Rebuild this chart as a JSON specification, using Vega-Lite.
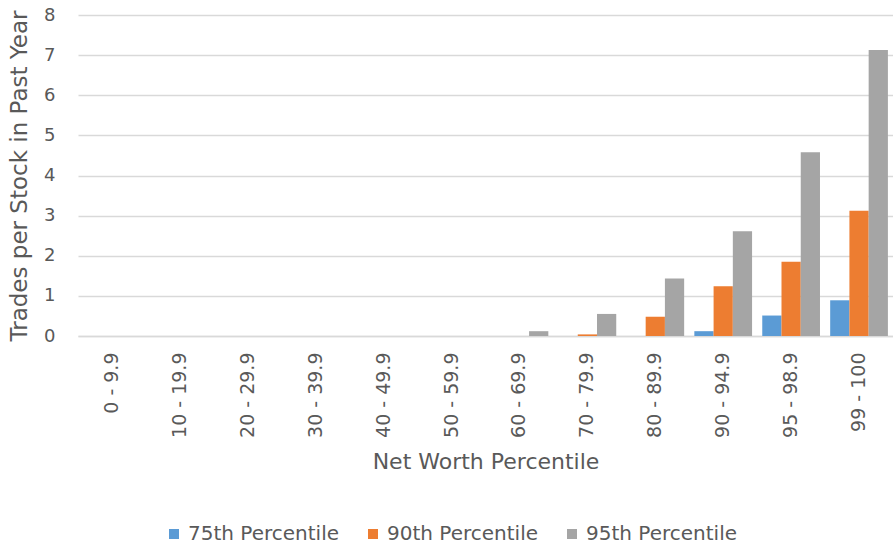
{
  "$schema": "https://vega.github.io/schema/vega-lite/v6.json",
  "width": 815,
  "height": 321,
  "autosize": {"type": "none"},
  "padding": {"left": 78, "top": 15, "right": 0, "bottom": 212},
  "background": "white",
  "config": {
    "view": {"stroke": null},
    "font": "DejaVu Sans",
    "axis": {"labelFont": "DejaVu Sans", "titleFont": "DejaVu Sans", "labelColor": "#595959", "titleColor": "#595959", "titleFontWeight": "normal"},
    "legend": {"labelFont": "DejaVu Sans", "labelColor": "#595959"}
  },
  "data": {
    "values": [
      {"cat": "0 - 9.9", "series": "75th Percentile", "v": 0}, {"cat": "0 - 9.9", "series": "90th Percentile", "v": 0}, {"cat": "0 - 9.9", "series": "95th Percentile", "v": 0},
      {"cat": "10 - 19.9", "series": "75th Percentile", "v": 0}, {"cat": "10 - 19.9", "series": "90th Percentile", "v": 0}, {"cat": "10 - 19.9", "series": "95th Percentile", "v": 0},
      {"cat": "20 - 29.9", "series": "75th Percentile", "v": 0}, {"cat": "20 - 29.9", "series": "90th Percentile", "v": 0}, {"cat": "20 - 29.9", "series": "95th Percentile", "v": 0},
      {"cat": "30 - 39.9", "series": "75th Percentile", "v": 0}, {"cat": "30 - 39.9", "series": "90th Percentile", "v": 0}, {"cat": "30 - 39.9", "series": "95th Percentile", "v": 0},
      {"cat": "40 - 49.9", "series": "75th Percentile", "v": 0}, {"cat": "40 - 49.9", "series": "90th Percentile", "v": 0}, {"cat": "40 - 49.9", "series": "95th Percentile", "v": 0},
      {"cat": "50 - 59.9", "series": "75th Percentile", "v": 0}, {"cat": "50 - 59.9", "series": "90th Percentile", "v": 0}, {"cat": "50 - 59.9", "series": "95th Percentile", "v": 0},
      {"cat": "60 - 69.9", "series": "75th Percentile", "v": 0}, {"cat": "60 - 69.9", "series": "90th Percentile", "v": 0}, {"cat": "60 - 69.9", "series": "95th Percentile", "v": 0.12},
      {"cat": "70 - 79.9", "series": "75th Percentile", "v": 0}, {"cat": "70 - 79.9", "series": "90th Percentile", "v": 0.04}, {"cat": "70 - 79.9", "series": "95th Percentile", "v": 0.55},
      {"cat": "80 - 89.9", "series": "75th Percentile", "v": 0}, {"cat": "80 - 89.9", "series": "90th Percentile", "v": 0.48}, {"cat": "80 - 89.9", "series": "95th Percentile", "v": 1.43},
      {"cat": "90 - 94.9", "series": "75th Percentile", "v": 0.12}, {"cat": "90 - 94.9", "series": "90th Percentile", "v": 1.24}, {"cat": "90 - 94.9", "series": "95th Percentile", "v": 2.61},
      {"cat": "95 - 98.9", "series": "75th Percentile", "v": 0.51}, {"cat": "95 - 98.9", "series": "90th Percentile", "v": 1.85}, {"cat": "95 - 98.9", "series": "95th Percentile", "v": 4.58},
      {"cat": "99 - 100", "series": "75th Percentile", "v": 0.89}, {"cat": "99 - 100", "series": "90th Percentile", "v": 3.12}, {"cat": "99 - 100", "series": "95th Percentile", "v": 7.13}
    ]
  },
  "mark": {"type": "bar"},
  "encoding": {
    "x": {
      "field": "cat", "type": "nominal", "sort": null,
      "scale": {"paddingInner": 0.15, "paddingOuter": 0.075},
      "axis": {"title": "Net Worth Percentile", "labelAngle": -90, "labelFontSize": 19, "ticks": false, "labelPadding": 16, "domainColor": "#d9d9d9", "domainWidth": 1.5, "titleFontSize": 22, "titlePadding": 14, "labelBaseline": "middle", "labelOverlap": false}
    },
    "xOffset": {"field": "series", "type": "nominal", "scale": {"paddingInner": 0, "paddingOuter": 0}},
    "y": {
      "field": "v", "type": "quantitative",
      "scale": {"domain": [0, 8]},
      "axis": {"title": "Trades per Stock in Past Year", "values": [0, 1, 2, 3, 4, 5, 6, 7, 8], "labelOverlap": false, "domain": false, "ticks": false, "labelFontSize": 18, "labelPadding": 23, "gridColor": "#d9d9d9", "gridWidth": 1.5, "titleFontSize": 23, "titlePadding": 12}
    },
    "color": {
      "field": "series", "type": "nominal",
      "scale": {"domain": ["75th Percentile", "90th Percentile", "95th Percentile"], "range": ["#5B9BD5", "#ED7D31", "#A5A5A5"]},
      "legend": {"title": null, "orient": "none", "direction": "horizontal", "legendX": 86, "legendY": 509, "symbolType": "square", "symbolSize": 100, "symbolStrokeWidth": 0, "labelFontSize": 20, "columnPadding": 24, "labelOffset": 4}
    }
  }
}
